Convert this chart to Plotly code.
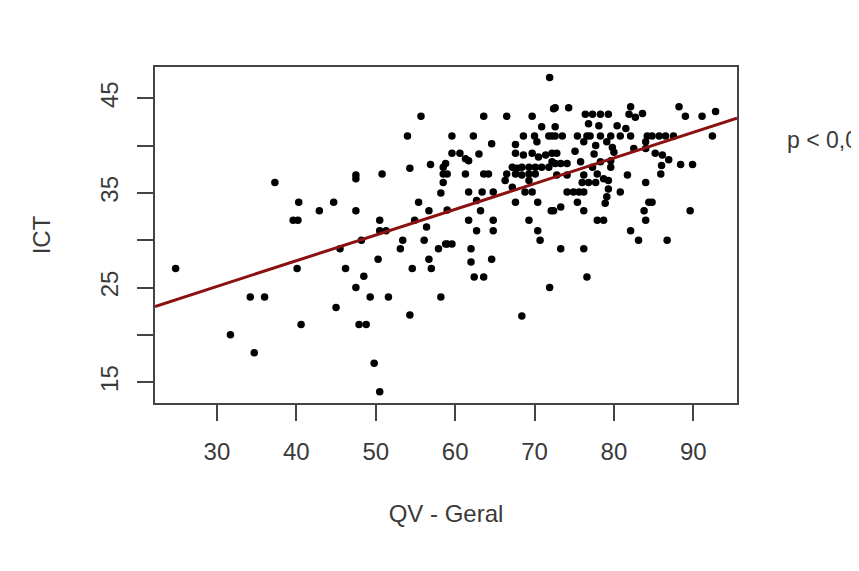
import plotly.graph_objects as go
import numpy as np

# QV - Geral (x) values
qv = [24.8, 37.3, 40.3, 39.6, 40.2, 40.1, 34.2, 36.0, 40.6, 31.7, 34.7,
      55.7, 54.0, 54.3, 56.9, 58.5, 58.5, 59.0, 58.5, 58.2, 47.5, 47.5, 50.8,
      42.9, 44.7, 47.5, 55.4, 56.7, 59.0, 50.5, 50.5, 51.3, 54.9, 56.4, 48.2,
      45.5, 53.4, 53.1, 56.1, 57.9, 59.0, 50.3, 56.7, 46.2, 54.6, 57.0, 48.5,
      47.5, 49.3, 51.6, 58.2, 45.0, 54.3, 47.9, 48.8, 49.8, 50.5,
      71.9, 63.6, 66.5, 69.7, 72.4, 70.9, 59.6, 62.3, 64.6, 68.6, 70.0, 70.3,
      71.8, 72.2, 67.6, 59.6, 60.6, 61.3, 61.7, 63.0, 67.6, 68.6, 69.7, 70.5,
      71.4, 72.2, 58.8, 61.3, 63.6, 64.2, 66.5, 67.2, 67.8, 68.4, 69.3, 70.1,
      70.9, 71.8, 72.6, 67.6, 68.4, 69.3, 70.1, 66.3, 69.3, 61.7, 63.4, 64.8,
      67.2, 68.8, 69.7, 62.7, 67.6, 70.4, 72.1, 63.2, 61.7, 64.8, 69.3, 62.7,
      64.8, 70.4, 70.7, 58.8, 59.6, 62.0, 62.0, 64.6, 62.4, 63.6, 71.9, 68.4,
      72.6, 74.3, 76.4, 77.3, 78.3, 79.3, 82.1, 81.9, 82.7, 83.6, 72.6, 76.8,
      78.1, 80.4, 81.5, 72.6, 73.5, 75.4, 76.6, 77.0, 78.3, 79.6, 80.8, 82.1,
      84.2, 76.2, 77.7, 79.1, 79.8, 75.1, 77.5, 80.0, 82.5, 72.8, 72.2, 73.3,
      74.1, 75.8, 78.3, 79.6, 77.3, 79.6, 81.7, 72.8, 74.1, 76.2, 77.9, 76.0,
      76.8, 77.7, 78.7, 79.3, 84.0, 74.1, 74.9, 75.6, 76.2, 79.3, 80.8, 75.4,
      79.1, 78.9, 84.4, 72.4, 73.3, 76.2, 83.8, 84.0, 77.9, 78.7, 82.1, 83.1,
      73.3, 76.2, 76.6,
      88.2, 89.0, 91.1, 92.8, 92.4, 84.8, 85.7, 86.5, 87.5, 84.0, 84.0, 85.2,
      86.1, 86.9, 88.4, 89.9, 86.0, 85.9, 84.8, 89.6, 86.7]

# ICT (y) values
ict = [27.0, 36.1, 34.0, 32.1, 32.1, 27.0, 24.0, 24.0, 21.1, 20.0, 18.1,
       43.1, 41.0, 37.6, 38.0, 37.7, 37.0, 37.0, 36.1, 35.0, 36.9, 36.5, 37.0,
       33.1, 34.0, 33.1, 34.0, 33.1, 33.2, 32.1, 31.0, 31.0, 32.1, 31.4, 30.0,
       29.1, 30.0, 29.1, 30.0, 29.1, 29.6, 28.0, 28.0, 27.0, 27.0, 27.0, 26.2,
       25.0, 24.0, 24.0, 24.0, 22.9, 22.1, 21.1, 21.1, 17.0, 14.0,
       47.2, 43.1, 43.1, 43.1, 43.9, 42.0, 41.0, 41.0, 40.2, 41.0, 41.0, 40.4,
       41.0, 41.0, 40.1, 39.2, 39.2, 38.6, 38.4, 39.1, 39.2, 39.0, 39.2, 38.8,
       39.0, 39.2, 38.1, 37.0, 37.0, 37.0, 37.0, 37.7, 37.6, 37.7, 37.7, 37.7,
       37.7, 37.7, 38.1, 37.0, 36.9, 37.0, 37.0, 36.3, 36.3, 35.1, 35.1, 35.1,
       35.6, 35.1, 35.1, 34.2, 34.0, 34.0, 33.1, 33.1, 32.1, 32.1, 32.1, 31.0,
       31.0, 31.0, 30.0, 29.6, 29.6, 29.1, 27.7, 28.0, 26.1, 26.1, 25.0, 22.0,
       44.0, 44.0, 43.3, 43.3, 43.3, 43.3, 44.1, 43.3, 43.0, 43.4, 42.0, 42.3,
       42.1, 42.1, 41.8, 41.0, 41.0, 41.0, 41.0, 41.0, 41.0, 41.0, 41.0, 41.0,
       41.0, 40.4, 40.0, 40.4, 39.8, 39.4, 39.1, 39.3, 39.7, 39.2, 38.3, 38.1,
       38.1, 38.3, 38.3, 38.4, 37.7, 37.7, 36.9, 36.9, 36.9, 36.9, 37.0, 36.1,
       36.1, 36.1, 36.5, 36.3, 36.1, 35.1, 35.1, 35.1, 35.1, 35.4, 35.1, 34.0,
       34.6, 33.9, 34.0, 33.1, 33.5, 33.1, 33.1, 32.1, 32.1, 32.1, 31.0, 30.0,
       29.1, 29.1, 26.1,
       44.1, 43.1, 43.1, 43.6, 41.0, 41.0, 41.0, 41.0, 41.0, 40.4, 39.7, 39.2,
       39.0, 38.5, 38.0, 38.0, 37.9, 37.0, 34.0, 33.1, 30.0]

# Regression line coefficients (ICT = a + b * QV)
fit_intercept = 16.97
fit_slope = 0.2715

x_range = [22.2, 95.5]
y_range = [12.8, 48.3]
x_ticks = [30, 40, 50, 60, 70, 80, 90]
y_ticks = [15, 20, 25, 30, 35, 40, 45]
y_tick_text = ["15", "", "25", "", "35", "", "45"]

line_x = np.array(x_range)
line_y = fit_intercept + fit_slope * line_x

FONT = "Liberation Sans, Arial, sans-serif"
TXT = "#3a3a3a"
AX = "#444444"

fig = go.Figure()
fig.add_trace(go.Scatter(x=qv, y=ict, mode="markers",
                         marker=dict(color="black", size=7.5, line=dict(width=0)),
                         showlegend=False, cliponaxis=True))
fig.add_trace(go.Scatter(x=line_x, y=line_y, mode="lines",
                         line=dict(color="#8b1010", width=3),
                         showlegend=False))

fig.update_layout(
    width=851, height=563,
    margin=dict(l=147, r=122, t=59, b=168, autoexpand=False),
    paper_bgcolor="white", plot_bgcolor="white",
    font=dict(family=FONT, color=TXT, size=24),
    xaxis=dict(range=x_range, tickvals=x_ticks, showgrid=False, zeroline=False,
               showline=True, linecolor=AX, linewidth=1.5, mirror=True,
               ticks="outside", ticklen=16, tickwidth=1.5, tickcolor=AX,
               ticklabelstandoff=10, automargin=False,
               tickfont=dict(size=24),
               title=dict(text="QV - Geral", standoff=42,
                          font=dict(size=24, family=FONT, color=TXT))),
    yaxis=dict(range=y_range, tickvals=y_ticks, ticktext=y_tick_text,
               tickangle=-90, showgrid=False, zeroline=False,
               showline=True, linecolor=AX, linewidth=1.5, mirror=True,
               ticks="outside", ticklen=16, tickwidth=1.5, tickcolor=AX,
               ticklabelstandoff=10, automargin=False,
               tickfont=dict(size=24),
               title=dict(text="ICT", standoff=38,
                          font=dict(size=24, family=FONT, color=TXT))),
    annotations=[dict(text="p < 0,001", xref="paper", yref="paper",
                      x=1.0825, y=0.783, xanchor="left", yanchor="middle",
                      showarrow=False, font=dict(size=23, family=FONT, color=TXT))],
)

fig.write_html("out.html")
